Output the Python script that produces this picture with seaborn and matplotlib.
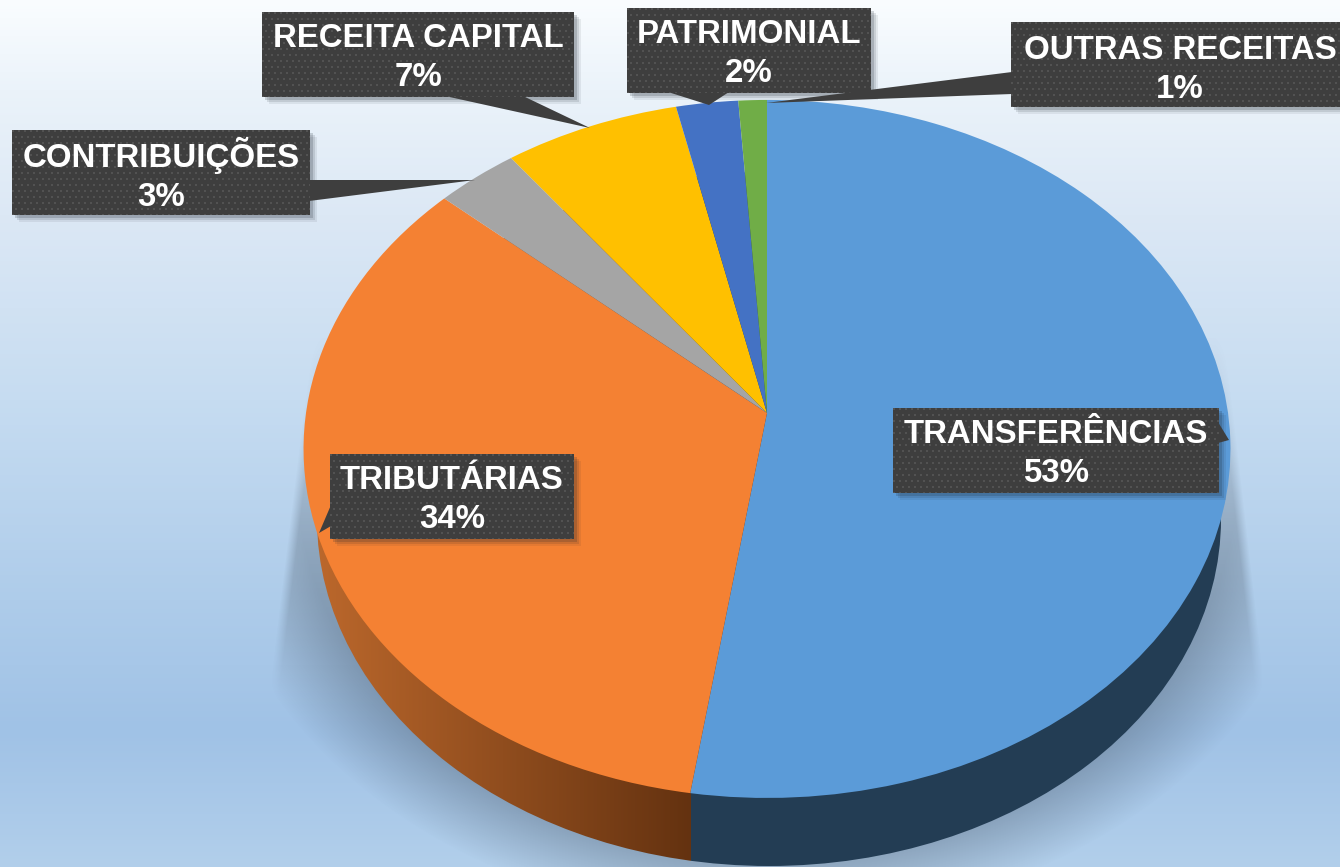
import numpy as np
import matplotlib
matplotlib.use("Agg")
import matplotlib.pyplot as plt
from matplotlib.patches import Ellipse, Polygon, Rectangle
from matplotlib.transforms import Transform
import seaborn as sns

sns.set_theme(style="white")
plt.rcParams["font.family"] = ["Liberation Sans", "DejaVu Sans"]

# ---- data -----------------------------------------------------------------
categories = ["TRANSFERÊNCIAS", "TRIBUTÁRIAS", "CONTRIBUIÇÕES",
              "RECEITA CAPITAL", "PATRIMONIAL", "OUTRAS RECEITAS"]
values = [52.6, 34.3, 3.2, 6.8, 2.4, 1.1]
face_colors = ["#5B9BD8", "#F48133", "#A5A5A5", "#FFC000", "#4472C4", "#70AD47"]

W, H = 1340, 867
APEX = (767, 413)
K, AY, BX = 0.103, 345.3, 461.0


class Perspective(Transform):
    """Tilted view of the unit pie, into pixel-like data coordinates."""
    input_dims = output_dims = 2
    is_affine = False

    def transform_non_affine(self, v):
        v = np.asarray(v, float)
        d = 1 + K * v[:, 1]
        return np.column_stack([APEX[0] + BX * v[:, 0] / d,
                                APEX[1] - AY * v[:, 1] / d])


fig = plt.figure(figsize=(W / 100, H / 100), dpi=100)
ax = fig.add_axes([0, 0, 1, 1])

yy, xx = np.mgrid[0:H, 0:W] + 0.5

# background
stops = [0, 90, 215, 400, 600, 730, 867]
bg = np.stack([np.interp(yy[:, 0], stops, c) for c in (
    [250, 235, 220, 198, 174, 160, 178],
    [253, 243, 232, 220, 204, 194, 207],
    [255, 250, 245, 241, 234, 230, 235])], axis=1)[:, None, :] / 255
ax.imshow(bg, extent=(0, W, H, 0), aspect="auto", zorder=0)

# soft shadow behind the pie
half_l = 767 - (305 - 0.123 * (yy - 400))
half_r = (1223 + 0.114 * (yy - 320)) - 767
half = np.where(xx < 767, half_l, half_r)
edge = np.clip((half - np.abs(xx - 767)) / 10, 0, 1)
t = np.clip((yy - 325) / 320, 0, 1)
r = np.hypot((xx - 767) / 470, (yy - 480) / 370)
fade = np.clip((1.2 - r) / 0.2, 0, 1)
alpha = 0.32 * (t * t * (3 - 2 * t)) ** 0.8 * edge * fade
shadow = np.dstack([np.full_like(xx, 40 / 255), np.full_like(xx, 50 / 255),
                    np.full_like(xx, 62 / 255), alpha])
ax.imshow(shadow, extent=(0, W, H, 0), aspect="auto", zorder=1)

# side wall: lower rim, shaded by x
wall_split = 691
ramp_x = xx[0]
wall = np.zeros((1, W, 3))
for i, (a, b) in enumerate(zip((188, 104, 44), (100, 50, 16))):
    wall[0, :, i] = np.interp(ramp_x, [315, wall_split], [a, b])
wall[0, ramp_x > wall_split] = np.array([35, 61, 84])
wall /= 255
im = ax.imshow(wall, extent=(0, W, H, 0), aspect="auto", zorder=2)
rim = Ellipse((769, 519), 2 * 452, 2 * 347, transform=ax.transData,
              fc="none", ec="none")
ax.add_patch(rim)
im.set_clip_path(rim)

# top face
wedges, _ = ax.pie(values, colors=sns.color_palette(face_colors),
                   startangle=90, counterclock=False, radius=1.0,
                   wedgeprops=dict(linewidth=0))
proj = Perspective() + ax.transData
for w in wedges:
    w.set_transform(proj)
    w.set_zorder(3)


# ---- callouts -------------------------------------------------------------
def tile(w, h):
    y, x = np.mgrid[0:h, 0:w]
    img = np.full((h, w, 3), 62 / 255)
    dots = (y % 6 < 2) & ((x + 3 * ((y // 6) % 2)) % 6 < 2)
    img[dots] = 82 / 255
    return img


boxes = [  # x0, y0, x1, y1
    (893, 408, 1219, 493), (330, 454, 574, 539), (12, 130, 310, 215),
    (262, 12, 574, 97), (627, 8, 871, 93), (1011, 22, 1349, 107)]
pointers = [
    [(1218, 422), (1229, 440), (1218, 443)],
    [(331, 505), (319, 533), (331, 526)],
    [(309, 180), (475, 180), (309, 201)],
    [(445, 96), (590, 128), (523, 96)],
    [(668, 92), (709, 105), (729, 92)],
    [(1012, 72), (766, 103), (1012, 94)]]
centers = [(1056, 454), (452, 500), (161, 175), (418, 58), (749, 54), (1180, 70)]

for i, (name, val, b, p, c) in enumerate(zip(categories, values, boxes, pointers, centers)):
    z = 4 + i * 0.1
    x0, y0, x1, y1 = b
    for off, al in ((7, 0.08), (5, 0.12), (3, 0.18)):
        ax.add_patch(Rectangle((x0 + off, y0 + off), x1 - x0, y1 - y0, fc="#1c2530",
                               ec="none", alpha=al, zorder=z))
    ax.add_patch(Polygon(p, closed=True, fc="#3E3E3E", ec="none", zorder=z + 0.01))
    ax.imshow(tile(x1 - x0, y1 - y0), extent=(x0, x1, y1, y0), aspect="auto",
              zorder=z + 0.02, interpolation="nearest")
    ax.text(c[0], c[1], f"{name}\n{val:.0f}%", color="white", fontweight="bold",
            fontsize=23.8, ha="center", va="center", linespacing=1.3, zorder=z + 0.03)

ax.set_xlim(0, W)
ax.set_ylim(H, 0)
ax.set_aspect("auto")
ax.set_axis_off()
fig.savefig("out.png", dpi=100)
